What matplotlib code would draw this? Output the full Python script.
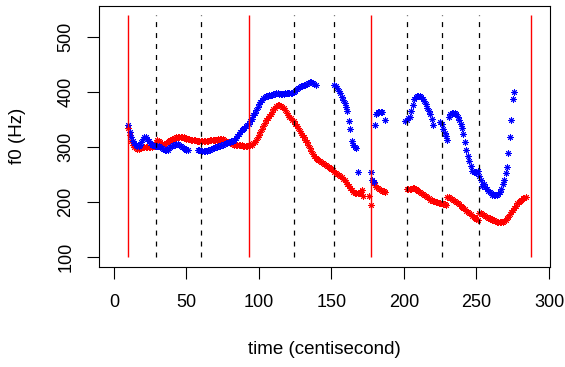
import numpy as np
import matplotlib
matplotlib.use("Agg")
import matplotlib.pyplot as plt

plt.rcParams["font.family"] = ["Liberation Sans", "DejaVu Sans"]
plt.rcParams["lines.scale_dashes"] = False

# f0 tracks (Hz), one value per centisecond, split where the tracker drops out
red_a_start = 10
red_a = [335, 322, 311, 305, 301, 299, 297, 297, 298, 299, 300, 300, 301, 301, 301, 300, 300, 302, 306, 310,
         313, 312, 309, 306, 305, 306, 308, 310, 312, 314, 315, 316, 317, 318, 318, 319, 319, 319, 318, 317,
         316, 315, 315, 314, 314, 314, 313, 312, 312, 312, 312, 312, 311, 311, 311, 312, 313, 313, 313, 313,
         313, 314, 315, 316, 316, 315, 314, 312, 310, 309, 308, 307, 306, 305, 305, 304, 304, 304, 304, 303,
         303, 303, 303, 304, 304, 305, 307, 310, 314, 318, 323, 328, 334, 339, 344, 349, 353, 357, 361, 365,
         369, 372, 375, 377, 377, 376, 374, 371, 367, 363, 359, 356, 353, 350, 347, 343, 339, 335, 330, 326,
         322, 318, 314, 310, 304, 298, 293, 288, 284, 281, 279, 277, 275, 273, 272, 270, 268, 266, 264, 262,
         260, 258, 256, 254, 252, 250, 248, 246, 243, 240, 237, 234, 230, 226, 222, 219, 217, 216, 216, 217,
         219, 222]
red_s_t = [172, 176, 177]
red_s = [211, 211, 195]
red_b_start = 178
red_b = [240, 236, 231, 228, 226, 224, 222, 221, 220, 219]
red_c_start = 202
red_c = [224, 225, 225, 225, 226, 226, 225, 223, 221, 219, 217, 215, 213, 211, 209, 207, 205, 204, 203, 202,
         201, 200, 199, 198, 198, 197, 196, 195, 210, 209, 208, 206, 204, 202, 200, 198, 196, 194, 191, 189,
         187, 184, 182, 180, 178, 175, 173, 171, 169, 168, 181, 180, 178, 177, 175, 174, 172, 171, 169, 168,
         167, 166, 165, 165, 164, 165, 165, 166, 168, 171, 174, 178, 182, 186, 190, 194, 198, 201, 203, 205,
         207, 208, 210]

blue_a_start = 10
blue_a = [340, 328, 318, 312, 307, 304, 302, 302, 305, 310, 315, 318, 318, 315, 311, 307, 305, 304, 303, 303,
          303, 302, 301, 299, 297, 296, 295, 296, 298, 300, 302, 304, 305, 306, 306, 305, 303, 301, 299, 297,
          296, 295]
blue_b_start = 58
blue_b = [296, 295, 294, 294, 294, 294, 294, 295, 296, 297, 298, 299, 300, 301, 302, 303, 304, 305, 306, 307,
          308, 309, 310, 311, 312, 314, 317, 320, 324, 328, 331, 334, 336, 338, 340, 343, 347, 352, 358, 363,
          368, 373, 378, 382, 386, 389, 391, 393, 394, 395, 396, 396, 397, 397, 398, 398, 397, 397, 397, 397,
          398, 398, 398, 398, 398, 399, 400, 403, 406, 408, 410, 411, 412, 413, 414, 416, 417, 418, 418, 417,
          415, 413]
blue_c_start = 152
blue_c = [413, 412, 408, 403, 398, 392, 386, 380, 373, 366, 348, 333, 312, 305, 301, 298, 256]
blue_d_t = [177, 178, 179, 180, 181, 182, 183, 184, 185, 187]
blue_d = [256, 240, 237, 341, 360, 364, 365, 365, 364, 350]
blue_e_start = 201
blue_e = [348, 350, 353, 356, 366, 377, 388, 392, 394, 394, 393, 391, 388, 384, 378, 372, 366, 360, 351, 341]
blue_f_start = 225
blue_f = [346, 343, 333, 326, 320, 314, 356, 361, 363, 363, 362, 360, 355, 349, 343, 335, 324, 310, 296, 285,
          276, 266, 257, 256, 256, 256, 257, 247, 241, 230, 234, 228, 225, 220, 218, 216, 214, 213, 213, 213,
          215, 218, 225, 233, 241, 253, 265, 289, 318, 350, 387, 400]

# segment boundaries
bounds_solid = [10, 93, 177, 287.5]
bounds_dashed = [29, 60, 124, 152, 202, 226.5, 251.5]


def seg(start, vals):
    return np.arange(start, start + len(vals)), np.array(vals)


red_parts = [seg(red_a_start, red_a), (np.array(red_s_t), np.array(red_s)),
             seg(red_b_start, red_b), seg(red_c_start, red_c)]
blue_parts = [seg(blue_a_start, blue_a), seg(blue_b_start, blue_b), seg(blue_c_start, blue_c),
              (np.array(blue_d_t), np.array(blue_d)), seg(blue_e_start, blue_e), seg(blue_f_start, blue_f)]

fig = plt.figure(figsize=(5.65, 3.67), dpi=100)
ax = fig.add_axes([0.1747, 0.2733, 0.7988, 0.7112])

star = (8, 2, 0)
for t, f in red_parts:
    ax.plot(t, f, linestyle="none", marker=star, markersize=4.6, markeredgewidth=0.7,
            color="red", zorder=2)
for t, f in blue_parts:
    ax.plot(t, f, linestyle="none", marker=star, markersize=4.6, markeredgewidth=0.7,
            color="blue", zorder=2)

ax.vlines(bounds_solid, 100, 540, colors="red", linewidth=1.0, zorder=3)
ax.vlines(bounds_dashed, 100, 540, colors="black", linewidth=0.9,
          linestyles=[(0, (3.6, 4.3))], zorder=3)

ax.set_xlim(-10.5, 300.7)
ax.set_ylim(82.9, 557.5)
ax.set_xticks([0, 50, 100, 150, 200, 250, 300])
ax.set_yticks([100, 200, 300, 400, 500])
ax.tick_params(axis="both", direction="out", length=8.6, width=0.8, labelsize=13)
ax.tick_params(axis="x", pad=11)
ax.tick_params(axis="y", pad=9)
for lab in ax.get_yticklabels():
    lab.set_rotation(90)
    lab.set_va("center")
for sp in ax.spines.values():
    sp.set_linewidth(0.8)

ax.set_xlabel("time (centisecond)", fontsize=13.5)
ax.set_ylabel("f0 (Hz)", fontsize=13.5)
ax.xaxis.set_label_coords(0.5, -0.319)
ax.xaxis.label.set_va("center")
ax.yaxis.set_label_coords(-0.179, 0.5)
ax.yaxis.label.set_va("center")

fig.savefig("out.png", dpi=100)
